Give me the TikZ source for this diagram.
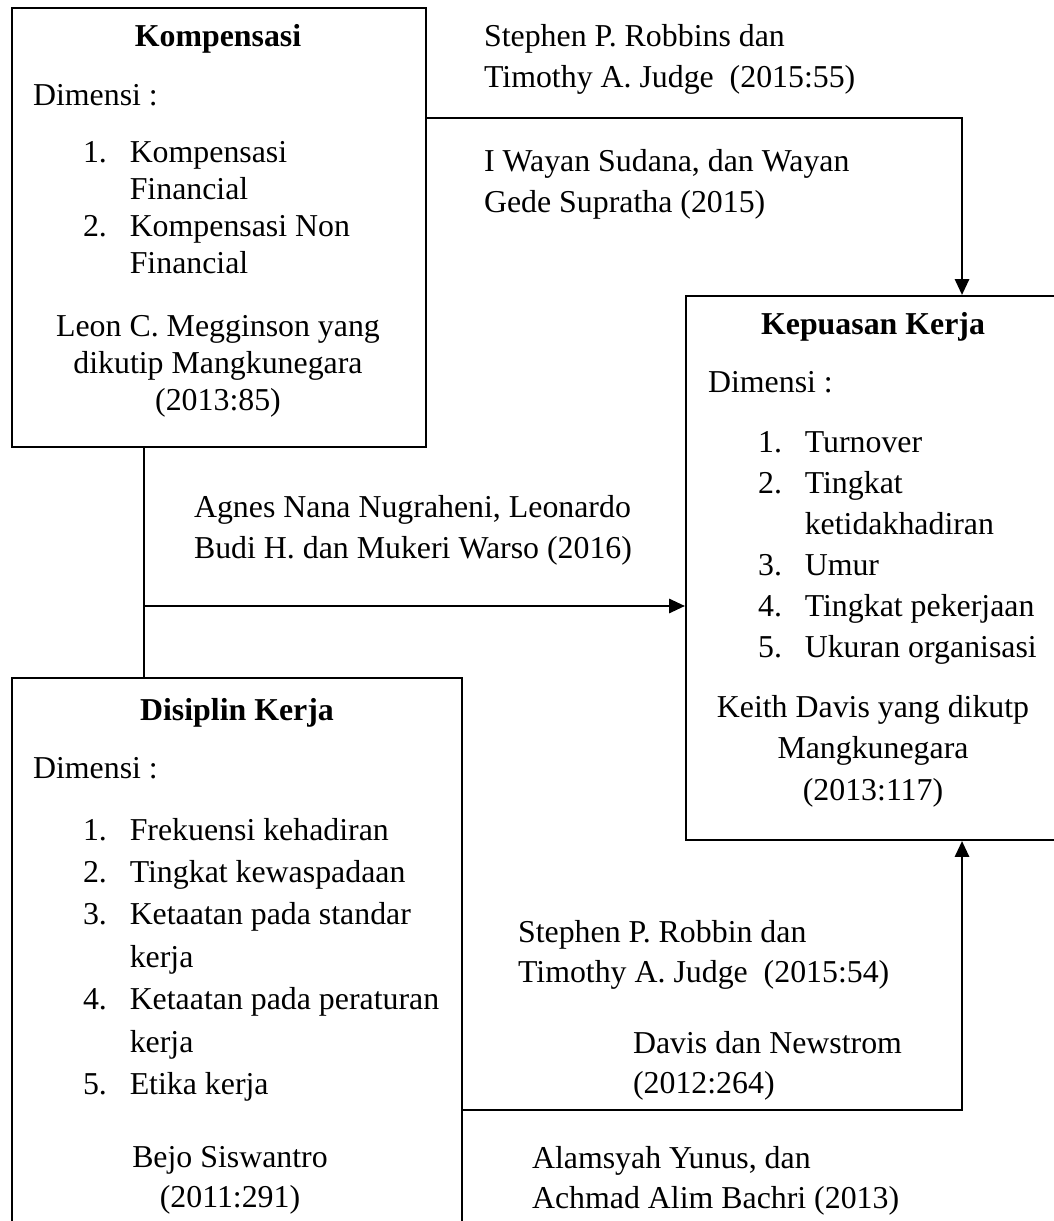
\documentclass[tikz,border=0pt]{standalone}
\usepackage{fontspec}
\setmainfont{Liberation Serif}
\usetikzlibrary{arrows.meta, fit, positioning}

\newcommand{\rows}[1]{\begin{tabular}[t]{@{}l@{}}#1\end{tabular}}
\newcommand{\crows}[1]{\begin{tabular}[t]{@{}c@{}}#1\end{tabular}}
\newcommand{\itemno}[1]{\makebox[17.6pt][l]{#1}}

\begin{document}
\begin{tikzpicture}[x=0.3768pt,y=-0.3768pt,line width=0.8pt,
    box/.style={draw,inner sep=0pt},
    txt/.style={inner sep=0pt,anchor=base west,font=\fontsize{12pt}{15.1pt}\selectfont},
    ctr/.style={txt,anchor=base},
    link/.style={-{Triangle[length=6pt,width=5.4pt]}}]
    \useasboundingbox (0,0) rectangle (1054,1221);
    \clip (0,0) rectangle (1054,1221);

    % the three variables
    \node[box,fit={(12,8) (426,447)}] (komp) {};
    \node[box,fit={(686,296) (1060,840)}] (puas) {};
    \node[box,fit={(12,678) (462,1260)}] (disi) {};

    % Kompensasi
    \node[ctr] (kompT) at (218,47) {\bfseries Kompensasi};
    \node[txt] (kompD) at (32,106) {Dimensi :};
    \node[txt,font=\fontsize{12pt}{13.9pt}\selectfont] (kompL) at (82,163)
        {\rows{\itemno{1.}Kompensasi\\ \itemno{}Financial\\ \itemno{2.}Kompensasi Non\\ \itemno{}Financial}};
    \node[ctr,font=\fontsize{12pt}{13.8pt}\selectfont] (kompS) at (218,337)
        {\crows{Leon C. Megginson yang\\ dikutip Mangkunegara\\ (2013:85)}};

    % Kepuasan Kerja
    \node[ctr] (puasT) at (873,335) {\bfseries Kepuasan Kerja};
    \node[txt] (puasD) at (707,393) {Dimensi :};
    \node[txt,font=\fontsize{12pt}{15.4pt}\selectfont] (puasL) at (757,453)
        {\rows{\itemno{1.}Turnover\\ \itemno{2.}Tingkat\\ \itemno{}ketidakhadiran\\ \itemno{3.}Umur\\
         \itemno{4.}Tingkat pekerjaan\\ \itemno{5.}Ukuran organisasi}};
    \node[ctr,font=\fontsize{12pt}{15.8pt}\selectfont] (puasS) at (873,717)
        {\crows{Keith Davis yang dikutp\\ Mangkunegara\\ (2013:117)}};

    % Disiplin Kerja
    \node[ctr] (disiT) at (237,720) {\bfseries Disiplin Kerja};
    \node[txt] (disiD) at (32,778) {Dimensi :};
    \node[txt,font=\fontsize{12pt}{16pt}\selectfont] (disiL) at (82,840)
        {\rows{\itemno{1.}Frekuensi kehadiran\\ \itemno{2.}Tingkat kewaspadaan\\ \itemno{3.}Ketaatan pada standar\\
         \itemno{}kerja\\ \itemno{4.}Ketaatan pada peraturan\\ \itemno{}kerja\\ \itemno{5.}Etika kerja}};
    \node[ctr] (disiS) at (230,1167) {\crows{Bejo Siswantro\\ (2011:291)}};

    % sources along the links
    \node[txt] (src1) at (483,47) {\rows{Stephen P. Robbins dan\\ Timothy A. Judge\ \ (2015:55)}};
    \node[txt] (src2) at (483,172) {\rows{I Wayan Sudana, dan Wayan\\ Gede Supratha (2015)}};
    \node[txt] (src3) at (193,518) {\rows{Agnes Nana Nugraheni, Leonardo\\ Budi H. dan Mukeri Warso (2016)}};
    \node[txt] (src4) at (517,942) {\rows{Stephen P. Robbin dan\\ Timothy A. Judge\ \ (2015:54)}};
    \node[txt] (src5) at (632,1053) {\rows{Davis dan Newstrom\\ (2012:264)}};
    \node[txt] (src6) at (531,1168) {\rows{Alamsyah Yunus, dan\\ Achmad Alim Bachri (2013)}};

    % links
    \coordinate (c1) at (962,118);
    \coordinate (c2) at (144,606);
    \coordinate (c3) at (962,1110);
    \draw[link] (c1 -| komp.east) -- (c1) -- (c1 |- puas.north);
    \draw (c2 |- komp.south) -- (c2 |- disi.north);
    \draw[link] (c2) -- (c2 -| puas.west);
    \draw[link] (c3 -| disi.east) -- (c3) -- (c3 |- puas.south);
\end{tikzpicture}
\end{document}
